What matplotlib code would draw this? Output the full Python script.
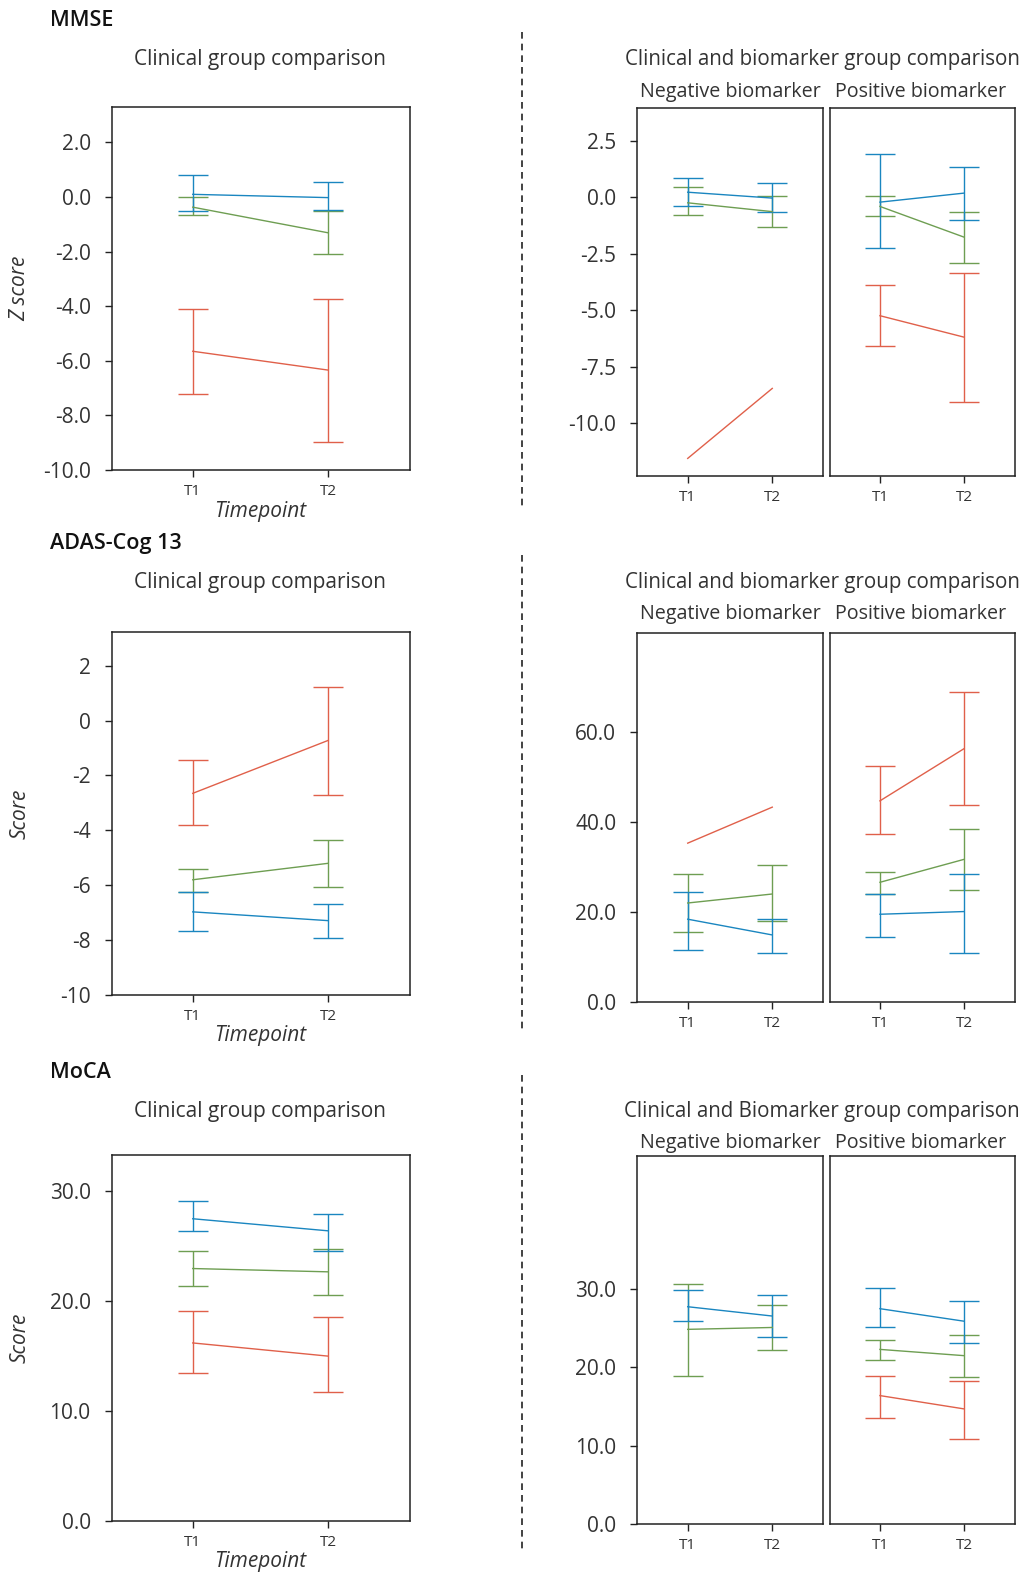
import matplotlib
matplotlib.use('Agg')
import matplotlib.pyplot as plt
from matplotlib.lines import Line2D
import numpy as np

plt.rcParams['font.family'] = ['Open Sans', 'DejaVu Sans']
plt.rcParams['axes.unicode_minus'] = False

W, H = 1023, 1576

timepoints = ['T1', 'T2']
colors = {'CU': '#1a86c0', 'MCI': '#6e9e52', 'AD': '#e0604a'}

# each group: (mean, lower, upper) for T1, T2
mmse_clin = {
    'AD':  ([-5.65, -6.34], [-7.22, -8.98], [-4.10, -3.73]),
    'MCI': ([-0.37, -1.31], [-0.66, -2.10], [0.00, -0.51]),
    'CU':  ([0.10, -0.02], [-0.52, -0.46], [0.80, 0.54]),
}
mmse_neg = {
    'AD':  ([-11.57, -8.47], None, None),
    'MCI': ([-0.25, -0.64], [-0.80, -1.31], [0.47, 0.04]),
    'CU':  ([0.22, -0.04], [-0.39, -0.66], [0.87, 0.65]),
}
mmse_pos = {
    'AD':  ([-5.25, -6.20], [-6.60, -9.08], [-3.88, -3.34]),
    'MCI': ([-0.41, -1.77], [-0.83, -2.92], [0.04, -0.66]),
    'CU':  ([-0.22, 0.18], [-2.24, -0.99], [1.90, 1.34]),
}

adas_clin = {
    'AD':  ([-2.65, -0.72], [-3.81, -2.72], [-1.42, 1.23]),
    'MCI': ([-5.80, -5.20], [-6.24, -6.08], [-5.40, -4.35]),
    'CU':  ([-6.97, -7.29], [-7.66, -7.93], [-6.24, -6.70]),
}
adas_neg = {
    'AD':  ([35.3, 43.3], None, None),
    'MCI': ([22.0, 24.0], [15.5, 18.1], [28.4, 30.5]),
    'CU':  ([18.4, 14.9], [11.6, 10.8], [24.5, 18.4]),
}
adas_pos = {
    'AD':  ([44.7, 56.3], [37.4, 43.8], [52.4, 68.8]),
    'MCI': ([26.6, 31.7], [24.0, 25.0], [28.9, 38.4]),
    'CU':  ([19.5, 20.1], [14.5, 11.0], [24.0, 28.5]),
}

moca_clin = {
    'AD':  ([16.2, 15.0], [13.5, 11.75], [19.15, 18.6]),
    'MCI': ([22.97, 22.67], [21.4, 20.6], [24.6, 24.76]),
    'CU':  ([27.5, 26.4], [26.4, 24.6], [29.1, 27.9]),
}
moca_neg = {
    'MCI': ([24.86, 25.1], [18.94, 22.26], [30.7, 27.97]),
    'CU':  ([27.75, 26.56], [25.96, 23.84], [29.9, 29.28]),
}
moca_pos = {
    'AD':  ([16.4, 14.7], [13.57, 10.9], [18.94, 18.2]),
    'MCI': ([22.3, 21.5], [21.0, 18.8], [23.5, 24.1]),
    'CU':  ([27.5, 25.9], [25.1, 23.1], [30.2, 28.5]),
}


def rect(x0, y0, x1, y1):
    return [x0 / W, 1 - y1 / H, (x1 - x0) / W, (y1 - y0) / H]


def fpos(x, y):
    return x / W, 1 - y / H


def draw(ax, data):
    x = np.arange(len(timepoints))
    for g, (mean, lo, hi) in data.items():
        mean = np.array(mean)
        if lo is None:
            ax.plot(x, mean, color=colors[g], lw=1)
        else:
            yerr = [mean - np.array(lo), np.array(hi) - mean]
            ax.errorbar(x, mean, yerr=yerr, color=colors[g], lw=1,
                        elinewidth=1, capsize=10.5, capthick=1)
    ax.set_xlim(-0.6, 1.6)
    ax.set_xticks(x, timepoints)
    for s in ax.spines.values():
        s.set_color('#222222')
        s.set_linewidth(1.1)
    ax.tick_params(direction='out', length=5, width=1, color='#222222')
    ax.tick_params(axis='x', labelsize=11, pad=5, labelcolor='#333333')
    ax.tick_params(axis='y', labelsize=15, pad=10, labelcolor='#333333')


fig = plt.figure(figsize=(W / 100, H / 100), dpi=100)

rows = [
    ('MMSE', 'Z score', mmse_clin, mmse_neg, mmse_pos,
     (-10, 3.3), [-10, -8, -6, -4, -2, 0, 2], '{:.1f}',
     (-12.35, 3.95), [-10, -7.5, -5, -2.5, 0, 2.5], '{:.1f}',
     'Clinical and biomarker group comparison', 0),
    ('ADAS-Cog 13', 'Score', adas_clin, adas_neg, adas_pos,
     (-10, 3.23), [-10, -8, -6, -4, -2, 0, 2], '{:.0f}',
     (0, 82), [0, 20, 40, 60], '{:.1f}',
     'Clinical and biomarker group comparison', 522),
    ('MoCA', 'Score', moca_clin, moca_neg, moca_pos,
     (0, 33.3), [0, 10, 20, 30], '{:.1f}',
     (0, 47), [0, 10, 20, 30], '{:.1f}',
     'Clinical and Biomarker group comparison', 1051),
]

left_y = [(107, 470), (632, 995), (1155, 1521)]
right_y = [(108, 476), (633, 1002), (1156, 1524)]

for i, (name, ylab, clin, neg, pos, ylim_l, yt_l, fmt_l,
        ylim_r, yt_r, fmt_r, rtitle, off) in enumerate(rows):
    ly0, ly1 = left_y[i]
    ry0, ry1 = right_y[i]
    h = ly1 - ly0

    ax = fig.add_axes(rect(111.5, ly0, 409.5, ly1))
    draw(ax, clin)
    ax.set_ylim(*ylim_l)
    ax.set_yticks(yt_l, [fmt_l.format(v) for v in yt_l])
    ax.set_ylabel(ylab, fontsize=15, style='italic', color='#333333',
                  va='center')
    ax.yaxis.set_label_coords(-91.5 / 298, 0.5)
    ax.set_xlabel('Timepoint', fontsize=15, style='italic', color='#333333',
                  va='center')
    ax.xaxis.set_label_coords(0.5, -41 / h)

    axn = fig.add_axes(rect(637, ry0, 823, ry1))
    draw(axn, neg)
    axn.set_ylim(*ylim_r)
    axn.set_yticks(yt_r, [fmt_r.format(v) for v in yt_r])

    axp = fig.add_axes(rect(829.5, ry0, 1014.5, ry1))
    draw(axp, pos)
    axp.set_ylim(*ylim_r)
    axp.set_yticks([])

    fig.text(*fpos(50, 21 + off), name, fontsize=15.5, fontweight='semibold',
             ha='left', va='center', color='#111111')
    fig.text(*fpos(260, 60 + off), 'Clinical group comparison', fontsize=15,
             ha='center', va='center', color='#333333')
    fig.text(*fpos(822, 60 + off), rtitle, fontsize=14.8,
             ha='center', va='center', color='#333333')
    fig.text(*fpos(730, 92 + off), 'Negative biomarker', fontsize=14.2,
             ha='center', va='center', color='#333333')
    fig.text(*fpos(921, 92 + off), 'Positive biomarker', fontsize=14.2,
             ha='center', va='center', color='#333333')

# dashed separators between the two columns
for y0, y1 in [(32, 508), (555, 1030), (1075, 1552)]:
    fig.add_artist(Line2D([522 / W, 522 / W], [1 - y0 / H, 1 - y1 / H],
                          transform=fig.transFigure, color='#222222',
                          lw=1.2, ls=(0, (4, 3))))

fig.savefig('out.png', dpi=100)
